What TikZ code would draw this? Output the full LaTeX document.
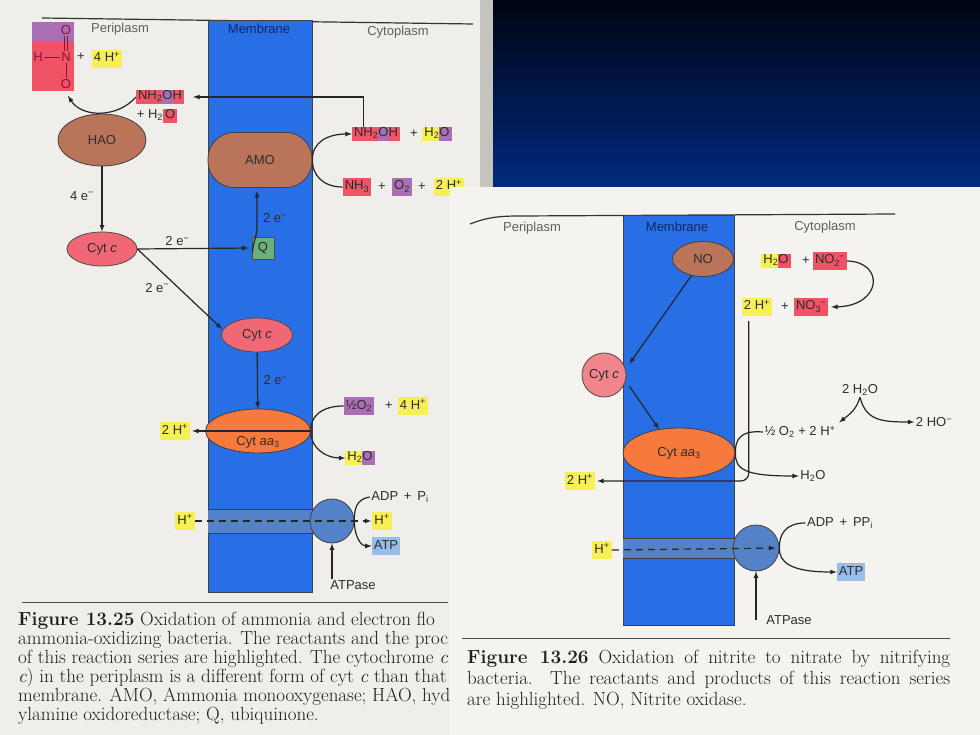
\documentclass[tikz,border=0pt]{standalone}
\usepackage{fontspec}
\setsansfont{Liberation Sans}
\usepackage{color}
\usepackage{tikz}
\usetikzlibrary{calc}
\usetikzlibrary{positioning}
\usetikzlibrary{shapes}
\usetikzlibrary{arrows}

\definecolor{leftbg}{RGB}{239,238,234}
\definecolor{rightbg}{RGB}{244,243,239}
\definecolor{stripgray}{RGB}{196,195,190}
\definecolor{gradtop}{RGB}{0,4,18}
\definecolor{gradbot}{RGB}{0,42,128}
\definecolor{membr}{RGB}{40,110,228}
\definecolor{chan}{RGB}{84,130,200}
\definecolor{enzbrown}{RGB}{186,116,90}
\definecolor{cytpink}{RGB}{240,104,118}
\definecolor{cytlight}{RGB}{242,132,140}
\definecolor{aaorange}{RGB}{246,122,62}
\definecolor{qgreen}{RGB}{108,176,122}
\definecolor{hlyellow}{RGB}{246,240,84}
\definecolor{hlpink}{RGB}{240,82,102}
\definecolor{hlpurple}{RGB}{170,110,180}
\definecolor{hlblue}{RGB}{150,190,235}
\definecolor{txt}{RGB}{45,45,45}
\definecolor{headgray}{RGB}{95,95,95}
\definecolor{headnavy}{RGB}{20,40,100}
\definecolor{nitro}{RGB}{140,20,50}
\definecolor{captxt}{RGB}{30,30,30}

\newcommand{\lblfont}{\sffamily\fontsize{13}{15}\selectfont}
\newcommand{\headfont}{\sffamily\fontsize{13}{15}\selectfont}
\newcommand{\capfont}{\rmfamily\fontsize{19}{21}\selectfont}
\newcommand{\pad}{\hspace{2pt}}
\newcommand{\hl}[2]{{\setlength{\fboxsep}{0pt}\colorbox{#1}{\rule[-4.5pt]{0pt}{14pt}#2}}}

\begin{document}
\begin{tikzpicture}[x=1pt,y=-1pt,
  lbl/.style={font=\lblfont, text=txt, inner sep=1.5pt},
  head/.style={font=\headfont, text=headgray},
  hbox/.style={lbl, inner sep=2pt, text height=10pt, text depth=4pt},
  yel/.style={hbox, fill=hlyellow},
  pnk/.style={hbox, fill=hlpink},
  pur/.style={hbox, fill=hlpurple},
  atpbox/.style={hbox, fill=hlblue},
  multi/.style={lbl, inner sep=0pt},
  atom/.style={font=\lblfont, text=nitro, inner sep=1pt},
  bond/.style={draw=nitro, line width=0.8pt},
  enz/.style={draw=black!75, line width=0.8pt, fill=enzbrown, font=\lblfont, text=txt},
  cytc/.style={draw=black!70, line width=0.8pt, fill=cytpink, font=\lblfont, text=txt, inner sep=1pt},
  aa/.style={draw=black!75, line width=0.8pt, fill=aaorange, font=\lblfont, text=txt, inner sep=0pt},
  atpase/.style={draw=black!75, line width=0.8pt, fill=chan},
  memb/.style={fill=membr, draw=black!75, line width=0.8pt},
  arr/.style={-latex, line width=1.2pt, draw=black!85},
  rule/.style={line width=0.9pt, draw=black!70},
  captext/.style={font=\capfont, text=captxt, inner sep=0pt}]

\useasboundingbox (0,0) rectangle (980,735);
\fill[leftbg] (0,0) rectangle (480,735);
\fill[stripgray] (480,0) rectangle (493,187);
\shade[top color=gradtop, bottom color=gradbot] (493,0) rectangle (980,187);

% Figure 13.25
\draw[line width=1.2pt, black!80] (42,18) -- (473,24);
\fill[memb] (208,20) rectangle (312,509);
\fill[memb] (208,533) rectangle (312,592);
\fill[chan] (208,509) rectangle (325,533);
\draw[line width=0.8pt, black!75] (208,509) -- (318,509);
\draw[line width=0.8pt, black!75] (208,533) -- (318,533);

\node[head] (peri1) at (120,29) {Periplasm};
\node[head, text=headnavy] (mem1) at (259,29) {Membrane};
\node[head] (cyto1) at (398,32) {Cytoplasm};

\node[fill=hlpink, minimum width=42, minimum height=69, inner sep=0pt] (nitrite) at (53,56.5) {};
\fill[hlpurple] (nitrite.north west) rectangle ($(nitrite.north east)+(0,20)$);
\node[atom] (o1) at (66,30) {O};
\node[atom] (n1) at (66,57) {N};
\node[atom] (h1) at (38,57) {H};
\node[atom] (o2) at (66,84) {O};
\draw[bond] (h1) -- (n1);
\draw[bond] (n1) -- (o2);
\draw[bond] ($(o1.south)+(-1.3,0)$) -- ($(n1.north)+(-1.3,0)$);
\draw[bond] ($(o1.south)+(1.3,0)$) -- ($(n1.north)+(1.3,0)$);
\node[lbl] (plus1) at (81,57) {+};
\node[yel] (h4a) at (107,59) {4 H\textsuperscript{+}};

\node[multi] (nh2oh1) at (160,97) {\hl{hlpink}{\pad NH\textsubscript{2}}\hl{hlpurple}{O}\hl{hlpink}{H\pad}};
\node[multi] (h2o1) at (157,116) {+ H\textsubscript{2}\hl{hlpink}{\pad O\pad}};

\node[enz, ellipse, minimum width=88, minimum height=52] (hao) at (102,140) {HAO};
\node[enz, rectangle, rounded corners=26, minimum width=104, minimum height=55] (amo) at (260,160) {AMO};

\node[multi] (nh2oh2) at (376,134) {\hl{hlpink}{\pad NH\textsubscript{2}}\hl{hlpurple}{O}\hl{hlpink}{H\pad}};
\node[lbl] (plus2) at (414,134) {+};
\node[multi] (h2o2) at (437,134) {\hl{hlyellow}{\pad H\textsubscript{2}}\hl{hlpurple}{O\pad}};
\node[pnk] (nh3) at (357,187) {NH\textsubscript{3}};
\node[lbl] (plus3) at (382,187) {+};
\node[pur] (o2a) at (402,187) {O\textsubscript{2}};
\node[lbl] (plus4) at (422,187) {+};
\node[yel] (h2a) at (449,187) {2 H\textsuperscript{+}};

\node[cytc, ellipse, minimum width=70, minimum height=34] (cytc1) at (102,249) {Cyt \textit{c}};
\node[draw=black!70, line width=0.8pt, fill=qgreen, minimum size=22, inner sep=1pt, font=\lblfont, text=txt] (q) at (263,248) {Q};
\node[cytc, ellipse, minimum width=71, minimum height=34] (cytc2) at (257,335) {Cyt \textit{c}};
\node[aa, ellipse, minimum width=105, minimum height=44] (aa1) at (258,431) {};
\node[lbl] (aa1lbl) at (258,442) {Cyt \textit{aa}\textsubscript{3}};

\node[yel] (h2b) at (175,431) {2 H\textsuperscript{+}};
\node[pur] (o2b) at (359,406) {½O\textsubscript{2}};
\node[lbl] (plus5) at (389,406) {+};
\node[yel] (h4b) at (413,406) {4 H\textsuperscript{+}};
\node[multi] (h2ob) at (360,458) {\hl{hlyellow}{\pad H\textsubscript{2}}\hl{hlpurple}{O\pad}};

\node[atpase, circle, minimum size=44] (atp1) at (332,521) {};
\node[yel] (hpl1) at (185,521) {H\textsuperscript{+}};
\node[yel] (hpr1) at (382,521) {H\textsuperscript{+}};
\node[lbl] (adp1) at (400,497) {ADP \,+\, P\textsubscript{i}};
\node[atpbox] (atpb1) at (386,546) {ATP};
\node[lbl] (atpl1) at (353,585) {ATPase};

\draw[arr, shorten >=9pt] ($(nh2oh2.north west)+(12,0)$) |- (nh2oh1.east);
\draw[arr] (nh2oh1.west) .. controls (118,118) and (82,118) .. ($(o2.south)+(2,6)$);
\draw[arr] (nh3.west) .. controls (322,187) and (312,174) .. (amo.east) .. controls (312,142) and (328,134) .. (nh2oh2.west);
\draw[arr] (hao) -- (cytc1) node[pos=0.45, left=6pt, lbl] {4 e\textsuperscript{−}};
\draw[arr, shorten >=3pt] (cytc1.east) -- (q.west) node[pos=0.35, above=1pt, lbl] {2 e\textsuperscript{−}};
\draw[arr] ($(q.west)+(1,4)$) .. controls ($(q.west)+(1,-6)$) and (257,238) .. (257,226) -- ($(amo.south)+(-3,3)$);
\node[lbl] (e2a) at (275,218) {2 e\textsuperscript{−}};
\draw[arr] (cytc1.east) -- ($(cytc2.west)+(1,-6)$) node[pos=0.4, below left, lbl] {2 e\textsuperscript{−}};
\draw[arr] (cytc2) -- (aa1) node[midway, right=4pt, lbl] {2 e\textsuperscript{−}};
\draw[arr, shorten >=2pt] (aa1.east) -- (h2b.east);
\draw[arr] (o2b.west) .. controls (322,406) and (310,416) .. (aa1.east) .. controls (310,447) and (325,458) .. (h2ob.west);
\draw[arr, dashed, dash pattern=on 7pt off 5pt, shorten >=1pt] (hpl1.east) -- (hpr1.west);
\draw[arr] (adp1.west) .. controls (356,499) and (354,510) .. (atp1.east) .. controls (354,534) and (360,546) .. (atpb1.west);
\draw[arr] (atpl1.north -| atp1) -- (atp1.south);

\draw[rule] (22,602) -- (448,602);
\node[captext, anchor=base west] (cap1a) at (18,625) {\textbf{Figure 13.25} Oxidation of ammonia and electron flo};
\node[captext, anchor=base west] (cap1b) at (18,644) {ammonia-oxidizing bacteria. The reactants and the proc};
\node[captext, anchor=base west] (cap1c) at (18,663) {of this reaction series are highlighted. The cytochrome \textit{c}};
\node[captext, anchor=base west] (cap1d) at (18,682) {\textit{c}) in the periplasm is a different form of cyt \textit{c} than that i};
\node[captext, anchor=base west] (cap1e) at (18,701) {membrane. AMO, Ammonia monooxygenase; HAO, hyd};
\node[captext, anchor=base west] (cap1f) at (18,720) {ylamine oxidoreductase; Q, ubiquinone.};

% Figure 13.26
\fill[rightbg] (450,187) rectangle (980,735);
\draw[line width=1.2pt, black!80] (470,224) .. controls (488,217) and (500,216) .. (520,216) -- (895,214);
\fill[memb] (623,215) rectangle (734,538);
\fill[memb] (623,558) rectangle (734,625);
\fill[chan] (623,538) rectangle (745,558);
\draw[line width=0.8pt, black!75] (623,538) -- (738,538);
\draw[line width=0.8pt, black!75] (623,558) -- (738,558);

\node[head] (peri2) at (532,228) {Periplasm};
\node[head, text=headnavy] (mem2) at (677,227) {Membrane};
\node[head] (cyto2) at (825,227) {Cytoplasm};

\node[enz, ellipse, minimum width=61, minimum height=35] (no) at (703,259) {NO};
\node[multi] (h2o3) at (776,261) {\hl{hlyellow}{\pad H\textsubscript{2}}\hl{hlpink}{O\pad}};
\node[lbl] (plus6) at (806,261) {+};
\node[pnk] (no2) at (830,261) {NO\textsubscript{2}\kern-1pt\textsuperscript{−}};
\node[yel] (h2c) at (757,307) {2 H\textsuperscript{+}};
\node[lbl] (plus7) at (785,307) {+};
\node[pnk] (no3) at (811,307) {NO\textsubscript{3}\kern-1pt\textsuperscript{−}};

\node[cytc, circle, fill=cytlight, minimum size=44] (cytc3) at (604,375) {Cyt \textit{c}};
\node[aa, ellipse, minimum width=112, minimum height=50] (aa2) at (679,453) {Cyt \textit{aa}\textsubscript{3}};
\node[yel] (h2d) at (580,481) {2 H\textsuperscript{+}};
\node[lbl] (o2c) at (800,432) {½ O\textsubscript{2} + 2 H\textsuperscript{+}};
\node[lbl] (h2oc) at (813,476) {H\textsubscript{2}O};
\node[lbl] (h2o4) at (860,390) {2 H\textsubscript{2}O};
\node[lbl] (ho) at (934,422) {2 HO\textsuperscript{−}};

\node[atpase, circle, minimum size=46] (atp2) at (756,548) {};
\node[yel] (hpl2) at (602,550) {H\textsuperscript{+}};
\node[lbl] (adp2) at (840,523) {ADP \,+\, PP\textsubscript{i}};
\node[atpbox] (atpb2) at (851,572) {ATP};
\node[lbl] (atpl2) at (789,620) {ATPase};

\draw[arr, shorten >=3pt] (no2.east) .. controls (885,262) and (882,306) .. (no3.east);
\draw[arr, rounded corners=8pt, shorten >=2pt] ($(h2c.south west)+(7,5)$) |- (h2d.east);
\draw[arr] (no.235) -- ($(cytc3.30)+(6,0)$);
\draw[arr] ($(cytc3.-30)+(6,0)$) -- (aa2.130);
\draw[arr] (o2c.west) .. controls (740,430) and (735,440) .. (aa2.east) .. controls (735,470) and (746,476) .. (h2oc.west);
\draw[arr] (h2o4.south) .. controls (856,410) and (850,414) .. ($(o2c.north east)+(2,-2)$);
\draw[arr] (h2o4.south) .. controls (866,420) and (880,422) .. (ho.west);
\draw[arr, dashed, dash pattern=on 7pt off 5pt, shorten >=4pt] (hpl2.east) -- (atp2.east);
\draw[arr] (adp2.west) .. controls (785,523) and (779,535) .. (atp2.east) .. controls (779,562) and (790,572) .. (atpb2.west);
\draw[arr] (atpl2.west -| atp2) -- (atp2.south);

\draw[rule] (462,638) -- (950,638);
\node[captext, anchor=base west] (cap2a) at (467,663) {\makebox[483pt][s]{\textbf{Figure 13.26} Oxidation of nitrite to nitrate by nitrifying}};
\node[captext, anchor=base west] (cap2b) at (467,684) {\makebox[483pt][s]{bacteria. The reactants and products of this reaction series}};
\node[captext, anchor=base west] (cap2c) at (467,705) {are highlighted. NO, Nitrite oxidase.};
\end{tikzpicture}
\end{document}
